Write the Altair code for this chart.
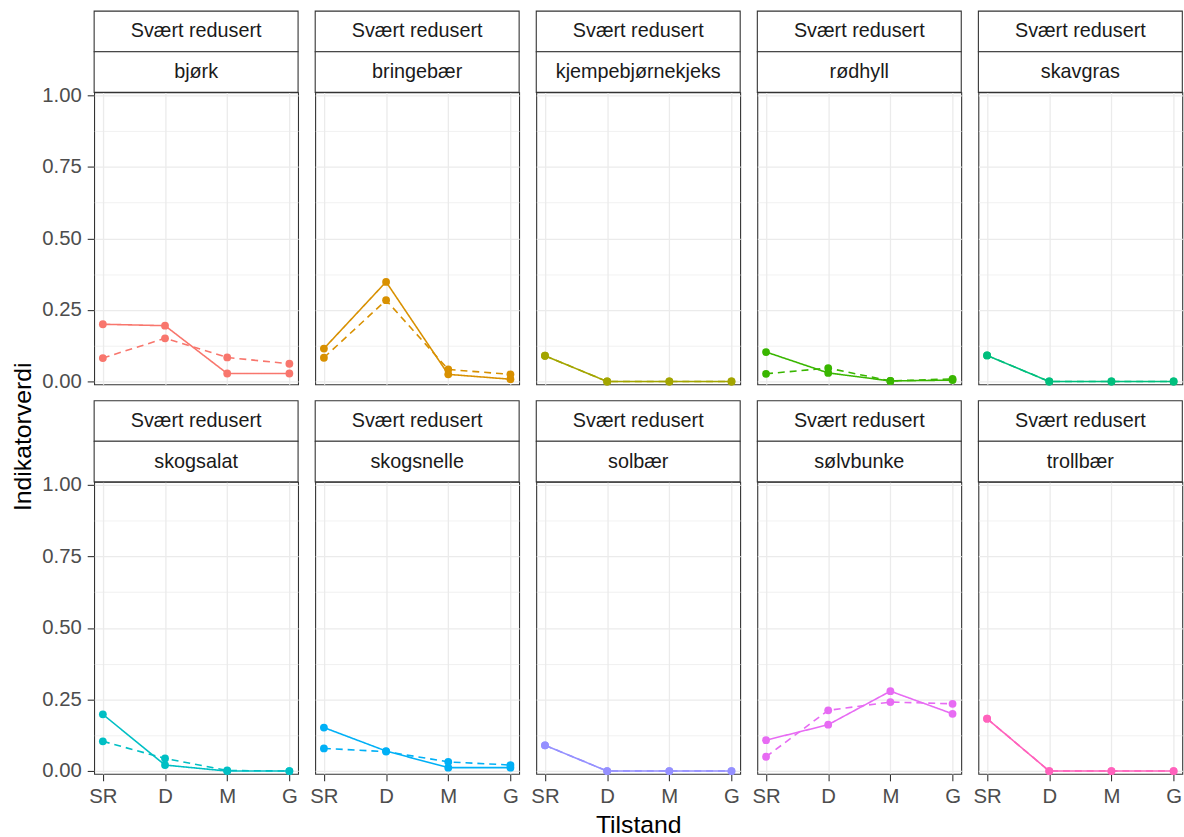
import altair as alt
import pandas as pd

# Categories
tilstand = ["SR", "D", "M", "G"]
arter = ["bjørk", "bringebær", "kjempebjørnekjeks", "rødhyll", "skavgras",
         "skogsalat", "skogsnelle", "solbær", "sølvbunke", "trollbær"]
farger = ["#F8766D", "#D89000", "#A3A500", "#39B600", "#00BF7D",
          "#00BFC4", "#00B0F6", "#9590FF", "#E76BF3", "#FF62BC"]
tilstandsklasse = "Svært redusert"
serier = ["heltrukket", "stiplet"]

# Indicator values in SR, D, M, G order (solid and dashed line)
bjork_hel = [0.200, 0.195, 0.028, 0.028]
bjork_stiplet = [0.082, 0.151, 0.084, 0.062]
bringebaer_hel = [0.115, 0.348, 0.025, 0.008]
bringebaer_stiplet = [0.083, 0.284, 0.042, 0.025]
kjempebjornekjeks_hel = [0.090, 0.000, 0.000, 0.000]
kjempebjornekjeks_stiplet = [0.090, 0.000, 0.000, 0.000]
rodhyll_hel = [0.103, 0.030, 0.002, 0.005]
rodhyll_stiplet = [0.027, 0.047, 0.002, 0.009]
skavgras_hel = [0.091, 0.000, 0.000, 0.000]
skavgras_stiplet = [0.091, 0.000, 0.000, 0.000]
skogsalat_hel = [0.198, 0.021, 0.000, 0.000]
skogsalat_stiplet = [0.104, 0.044, 0.002, 0.000]
skogsnelle_hel = [0.152, 0.070, 0.012, 0.012]
skogsnelle_stiplet = [0.079, 0.068, 0.032, 0.021]
solbaer_hel = [0.090, 0.000, 0.000, 0.000]
solbaer_stiplet = [0.090, 0.000, 0.000, 0.000]
solvbunke_hel = [0.108, 0.162, 0.279, 0.200]
solvbunke_stiplet = [0.050, 0.212, 0.241, 0.235]
trollbaer_hel = [0.183, 0.000, 0.000, 0.000]
trollbaer_stiplet = [0.183, 0.000, 0.000, 0.000]

verdier = {
    "bjørk": (bjork_hel, bjork_stiplet),
    "bringebær": (bringebaer_hel, bringebaer_stiplet),
    "kjempebjørnekjeks": (kjempebjornekjeks_hel, kjempebjornekjeks_stiplet),
    "rødhyll": (rodhyll_hel, rodhyll_stiplet),
    "skavgras": (skavgras_hel, skavgras_stiplet),
    "skogsalat": (skogsalat_hel, skogsalat_stiplet),
    "skogsnelle": (skogsnelle_hel, skogsnelle_stiplet),
    "solbær": (solbaer_hel, solbaer_stiplet),
    "sølvbunke": (solvbunke_hel, solvbunke_stiplet),
    "trollbær": (trollbaer_hel, trollbaer_stiplet),
}

y_major = [0, 0.25, 0.5, 0.75, 1.0]
y_minor = [0.125, 0.375, 0.625, 0.875]

W, H, S = 206, 295, 41          # panel width/height, strip box height
GREY20 = "#333333"
FONT = "Liberation Sans"
VENSTRE_KANT = 6                # common left extent for panels without a y axis


def panel(i):
    art, farge = arter[i], farger[i]
    row, col = divmod(i, 5)
    bunn, venstre = row == 1, col == 0
    hel, stiplet = verdier[art]
    df = pd.DataFrame({
        "Tilstand": tilstand * 2,
        "verdi": hel + stiplet,
        "serie": [serier[0]] * 4 + [serier[1]] * 4,
    })

    xscale = alt.Scale(type="point", domain=tilstand, padding=0.14)
    yscale = alt.Scale(domain=[-0.01, 1.01], nice=False, zero=False)

    xaxis = alt.Axis(grid=True, labels=bunn, ticks=bunn, domain=False,
                     labelAngle=0, labelPadding=6, titlePadding=6,
                     title="Tilstand" if (bunn and col == 2) else None)
    yaxis = alt.Axis(values=y_major, format=".2f", grid=True, labelPadding=6,
                     labels=venstre, ticks=venstre, domain=False, title=None)

    minor = alt.Chart(df).mark_point(opacity=0).encode(
        y=alt.Y("verdi:Q", scale=yscale,
                axis=alt.Axis(orient="right", values=y_minor, grid=True,
                              gridWidth=0.7, labels=False, ticks=False,
                              domain=False, title=None))
    )
    linjer = alt.Chart(df).mark_line(strokeWidth=1.6, color=farge).encode(
        x=alt.X("Tilstand:N", scale=xscale, axis=xaxis),
        y=alt.Y("verdi:Q", scale=yscale, axis=yaxis),
        strokeDash=alt.StrokeDash("serie:N",
                                  scale=alt.Scale(domain=serier, range=[[1, 0], [7, 5]]),
                                  legend=None),
    )
    punkter = alt.Chart(df).mark_circle(size=62, opacity=1, color=farge).encode(
        x=alt.X("Tilstand:N", scale=xscale, axis=xaxis),
        y=alt.Y("verdi:Q", scale=yscale, axis=None),
    )

    strip_df = pd.DataFrame({"øvre": [tilstandsklasse], "nedre": [art]})
    boks = dict(fill="white", stroke=GREY20, strokeWidth=1.1)
    tekst = dict(font=FONT, fontSize=20, color="#1A1A1A", align="center", baseline="middle")
    boks_ovre = alt.Chart(strip_df).mark_rect(**boks).encode(
        x=alt.value(0), x2=alt.value(W), y=alt.value(-2 * S), y2=alt.value(-S))
    boks_nedre = alt.Chart(strip_df).mark_rect(**boks).encode(
        x=alt.value(0), x2=alt.value(W), y=alt.value(-S), y2=alt.value(0))
    tekst_ovre = alt.Chart(strip_df).mark_text(**tekst).encode(
        text="øvre:N", x=alt.value(W / 2), y=alt.value(-1.5 * S))
    tekst_nedre = alt.Chart(strip_df).mark_text(**tekst).encode(
        text="nedre:N", x=alt.value(W / 2), y=alt.value(-0.5 * S))

    lag = [minor, linjer, punkter, boks_ovre, boks_nedre, tekst_ovre, tekst_nedre]
    if col > 0:
        # invisible spacer so every panel column has the same left extent
        lag.append(alt.Chart(strip_df).mark_rect(opacity=0).encode(
            x=alt.value(-VENSTRE_KANT), x2=alt.value(0),
            y=alt.value(-2 * S), y2=alt.value(-S)))

    return alt.layer(*lag).resolve_axis(y="independent").properties(
        width=W, height=H,
        view=alt.ViewBackground(stroke=GREY20, strokeWidth=1.1),
    )


rad1 = alt.hconcat(*[panel(i) for i in range(5)], spacing=8.3)
rad2 = alt.hconcat(*[panel(i) for i in range(5, 10)], spacing=8.3)
rutenett = alt.vconcat(rad1, rad2, spacing=5.5)

ytittel = alt.Chart(pd.DataFrame({"tittel": ["Indikatorverdi"]})).mark_text(
    angle=270, font=FONT, fontSize=25, color="black", align="center", baseline="middle"
).encode(text="tittel:N", x=alt.value(22), y=alt.value(348)).properties(width=35, height=H)

chart = alt.hconcat(ytittel, rutenett, spacing=4.1).properties(
    padding={"left": 0, "top": 5, "right": 0, "bottom": 0}
).configure_view(
    stroke="transparent"
).configure_axis(
    labelFont=FONT, labelFontSize=20.5, labelColor="#4D4D4D",
    tickColor=GREY20, tickSize=7, tickWidth=1.1,
    gridColor="#EBEBEB", gridWidth=1.3,
    titleFont=FONT, titleFontSize=25, titleFontWeight="normal",
    titleColor="black",
)

chart.save("out.html", embed_options={"renderer": "svg", "actions": False})
